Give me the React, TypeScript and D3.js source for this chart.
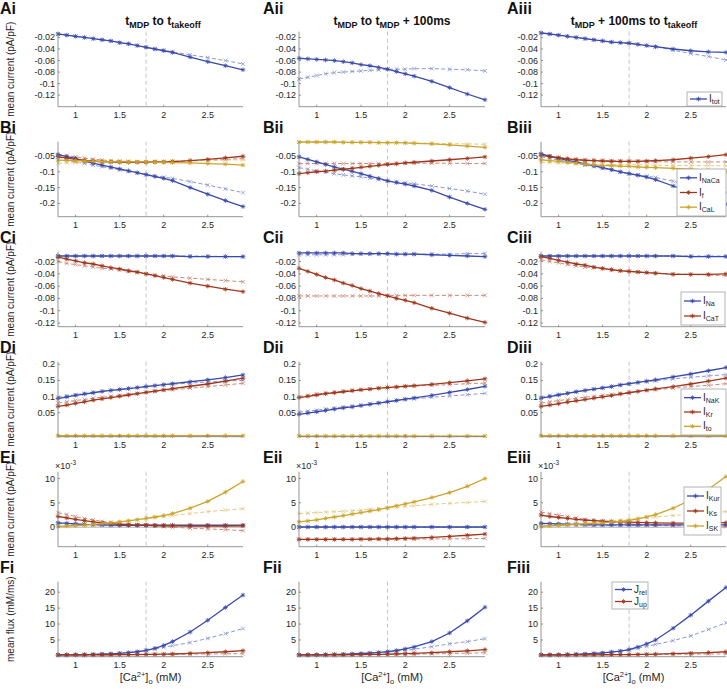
import React from 'react';
import * as d3 from 'd3';

// ---------- data ----------
const X = [0.8, 0.9, 1.0, 1.1, 1.2, 1.3, 1.4, 1.5, 1.6, 1.7, 1.8, 1.9, 2.0, 2.1, 2.3, 2.5, 2.7, 2.9];
const xTicks = [1, 1.5, 2, 2.5];
const colTitles = [
  [['t', ''], ['MDP', 'sub'], [' to t', ''], ['takeoff', 'sub']],
  [['t', ''], ['MDP', 'sub'], [' to t', ''], ['MDP', 'sub'], [' + 100ms', '']],
  [['t', ''], ['MDP', 'sub'], [' + 100ms to t', ''], ['takeoff', 'sub']],
];

// Row A: I_tot
const ai_tot = [-0.014,-0.016,-0.018,-0.020,-0.022,-0.024,-0.026,-0.029,-0.031,-0.034,-0.037,-0.040,-0.043,-0.046,-0.054,-0.062,-0.069,-0.076];
const ai_tot_d = [-0.014,-0.016,-0.018,-0.020,-0.022,-0.024,-0.026,-0.029,-0.031,-0.034,-0.037,-0.040,-0.042,-0.045,-0.050,-0.055,-0.060,-0.066];
const aii_tot = [-0.056,-0.057,-0.058,-0.059,-0.060,-0.062,-0.064,-0.067,-0.069,-0.072,-0.075,-0.079,-0.083,-0.087,-0.096,-0.107,-0.118,-0.128];
const aii_tot_d = [-0.092,-0.089,-0.086,-0.083,-0.081,-0.080,-0.079,-0.078,-0.077,-0.076,-0.075,-0.075,-0.075,-0.074,-0.074,-0.075,-0.076,-0.078];
const aiii_tot = [-0.012,-0.014,-0.016,-0.018,-0.020,-0.022,-0.024,-0.026,-0.028,-0.029,-0.030,-0.032,-0.034,-0.036,-0.040,-0.043,-0.045,-0.046];
const aiii_tot_d = [-0.012,-0.014,-0.016,-0.018,-0.020,-0.022,-0.024,-0.026,-0.028,-0.029,-0.030,-0.032,-0.034,-0.036,-0.042,-0.048,-0.053,-0.059];

// Row B: I_NaCa, I_f, I_CaL
const bi_naca = [-0.046,-0.052,-0.058,-0.066,-0.073,-0.079,-0.085,-0.091,-0.097,-0.103,-0.109,-0.115,-0.121,-0.128,-0.150,-0.171,-0.191,-0.210];
const bi_naca_d = [-0.053,-0.062,-0.069,-0.074,-0.079,-0.084,-0.089,-0.094,-0.099,-0.104,-0.109,-0.113,-0.117,-0.121,-0.131,-0.142,-0.154,-0.166];
const bi_f = [-0.052,-0.057,-0.061,-0.064,-0.066,-0.068,-0.069,-0.070,-0.070,-0.070,-0.070,-0.069,-0.069,-0.068,-0.065,-0.061,-0.056,-0.051];
const bi_f_d = [-0.045,-0.049,-0.053,-0.057,-0.060,-0.063,-0.065,-0.066,-0.068,-0.069,-0.069,-0.069,-0.069,-0.068,-0.066,-0.064,-0.061,-0.058];
const bi_cal = [-0.063,-0.064,-0.065,-0.066,-0.067,-0.068,-0.068,-0.069,-0.069,-0.069,-0.069,-0.070,-0.070,-0.071,-0.072,-0.074,-0.076,-0.079];
const bi_cal_d = [-0.073,-0.072,-0.071,-0.070,-0.070,-0.069,-0.069,-0.069,-0.068,-0.068,-0.068,-0.067,-0.067,-0.066,-0.065,-0.064,-0.063,-0.062];
const bii_naca = [-0.053,-0.061,-0.069,-0.077,-0.085,-0.092,-0.099,-0.106,-0.114,-0.121,-0.129,-0.134,-0.139,-0.145,-0.159,-0.180,-0.200,-0.219];
const bii_naca_d = [-0.087,-0.092,-0.097,-0.101,-0.106,-0.110,-0.113,-0.116,-0.120,-0.125,-0.129,-0.132,-0.135,-0.138,-0.145,-0.153,-0.161,-0.171];
const bii_f = [-0.106,-0.103,-0.100,-0.098,-0.095,-0.092,-0.089,-0.086,-0.083,-0.080,-0.077,-0.075,-0.072,-0.070,-0.066,-0.062,-0.058,-0.053];
const bii_f_d = [-0.074,-0.074,-0.074,-0.074,-0.074,-0.074,-0.074,-0.074,-0.074,-0.074,-0.074,-0.073,-0.073,-0.073,-0.073,-0.073,-0.074,-0.074];
const bii_cal = [-0.006,-0.006,-0.006,-0.006,-0.006,-0.007,-0.007,-0.007,-0.007,-0.008,-0.008,-0.008,-0.009,-0.010,-0.012,-0.015,-0.019,-0.023];
const bii_cal_d = [-0.006,-0.006,-0.006,-0.006,-0.006,-0.007,-0.007,-0.007,-0.007,-0.008,-0.008,-0.008,-0.008,-0.009,-0.010,-0.011,-0.012,-0.013];
const biii_naca = [-0.043,-0.051,-0.058,-0.064,-0.069,-0.075,-0.081,-0.087,-0.093,-0.100,-0.106,-0.111,-0.117,-0.125,-0.145,-0.164,-0.184,-0.203];
const biii_naca_d = [-0.053,-0.058,-0.063,-0.068,-0.073,-0.079,-0.084,-0.090,-0.095,-0.101,-0.106,-0.110,-0.114,-0.118,-0.130,-0.142,-0.154,-0.166];
const biii_f = [-0.048,-0.052,-0.056,-0.059,-0.062,-0.064,-0.065,-0.066,-0.067,-0.067,-0.067,-0.067,-0.066,-0.065,-0.062,-0.057,-0.052,-0.046];
const biii_f_d = [-0.045,-0.050,-0.054,-0.058,-0.060,-0.062,-0.063,-0.064,-0.065,-0.066,-0.067,-0.067,-0.068,-0.068,-0.069,-0.069,-0.069,-0.069];
const biii_cal = [-0.062,-0.065,-0.067,-0.070,-0.073,-0.076,-0.078,-0.080,-0.081,-0.082,-0.083,-0.085,-0.086,-0.087,-0.089,-0.092,-0.095,-0.098];
const biii_cal_d = [-0.070,-0.071,-0.072,-0.073,-0.074,-0.075,-0.076,-0.077,-0.077,-0.078,-0.078,-0.078,-0.079,-0.079,-0.080,-0.080,-0.081,-0.081];

// Row C: I_Na, I_CaT
const ci_na = [-0.011,-0.011,-0.011,-0.011,-0.011,-0.011,-0.011,-0.011,-0.011,-0.011,-0.011,-0.011,-0.011,-0.011,-0.012,-0.012,-0.012,-0.012];
const ci_na_d = [-0.011,-0.011,-0.011,-0.011,-0.011,-0.011,-0.011,-0.011,-0.011,-0.011,-0.011,-0.011,-0.011,-0.011,-0.011,-0.011,-0.012,-0.012];
const ci_cat = [-0.013,-0.016,-0.019,-0.022,-0.024,-0.027,-0.030,-0.032,-0.035,-0.037,-0.040,-0.043,-0.046,-0.049,-0.055,-0.060,-0.065,-0.069];
const ci_cat_d = [-0.020,-0.023,-0.025,-0.027,-0.029,-0.031,-0.032,-0.034,-0.036,-0.038,-0.040,-0.042,-0.043,-0.045,-0.047,-0.049,-0.051,-0.053];
const cii_na = [-0.006,-0.006,-0.006,-0.006,-0.006,-0.006,-0.007,-0.007,-0.007,-0.007,-0.007,-0.008,-0.008,-0.008,-0.009,-0.010,-0.011,-0.012];
const cii_na_d = [-0.009,-0.009,-0.009,-0.009,-0.009,-0.009,-0.008,-0.008,-0.008,-0.008,-0.008,-0.008,-0.008,-0.008,-0.008,-0.008,-0.007,-0.007];
const cii_cat = [-0.031,-0.036,-0.041,-0.046,-0.050,-0.055,-0.059,-0.064,-0.068,-0.072,-0.076,-0.080,-0.083,-0.087,-0.096,-0.104,-0.112,-0.119];
const cii_cat_d = [-0.076,-0.076,-0.076,-0.076,-0.076,-0.076,-0.076,-0.076,-0.076,-0.076,-0.075,-0.075,-0.075,-0.075,-0.075,-0.075,-0.075,-0.075];
const ciii_na = [-0.011,-0.011,-0.011,-0.011,-0.011,-0.011,-0.011,-0.011,-0.011,-0.011,-0.011,-0.011,-0.011,-0.011,-0.011,-0.012,-0.012,-0.012];
const ciii_na_d = [-0.011,-0.011,-0.011,-0.011,-0.011,-0.011,-0.011,-0.011,-0.011,-0.011,-0.011,-0.011,-0.011,-0.011,-0.011,-0.011,-0.011,-0.011];
const ciii_cat = [-0.012,-0.015,-0.018,-0.021,-0.024,-0.026,-0.029,-0.031,-0.033,-0.035,-0.036,-0.037,-0.038,-0.039,-0.041,-0.041,-0.041,-0.040];
const ciii_cat_d = [-0.017,-0.020,-0.022,-0.025,-0.027,-0.029,-0.030,-0.032,-0.034,-0.035,-0.036,-0.037,-0.038,-0.039,-0.040,-0.041,-0.042,-0.043];

// Row D: I_NaK, I_Kr, I_to
const di_nak = [0.094,0.099,0.104,0.108,0.112,0.116,0.119,0.122,0.125,0.128,0.131,0.134,0.137,0.140,0.146,0.152,0.159,0.167];
const di_nak_d = [0.098,0.102,0.106,0.110,0.113,0.116,0.119,0.122,0.125,0.128,0.131,0.134,0.136,0.138,0.142,0.145,0.148,0.150];
const di_kr = [0.070,0.074,0.079,0.084,0.089,0.093,0.097,0.101,0.105,0.109,0.113,0.117,0.121,0.125,0.132,0.139,0.148,0.157];
const di_kr_d = [0.080,0.084,0.088,0.091,0.095,0.098,0.101,0.104,0.107,0.110,0.113,0.116,0.119,0.121,0.126,0.131,0.136,0.141];
const di_to = [-0.021,-0.021,-0.021,-0.021,-0.021,-0.021,-0.021,-0.021,-0.021,-0.021,-0.021,-0.021,-0.021,-0.021,-0.021,-0.021,-0.021,-0.021];
const di_to_d = [-0.021,-0.021,-0.021,-0.021,-0.021,-0.021,-0.021,-0.021,-0.021,-0.021,-0.021,-0.021,-0.021,-0.021,-0.021,-0.021,-0.021,-0.021];
const dii_nak = [0.045,0.049,0.053,0.057,0.061,0.065,0.068,0.072,0.076,0.080,0.084,0.088,0.092,0.096,0.104,0.113,0.122,0.132];
const dii_nak_d = [0.052,0.055,0.058,0.062,0.065,0.068,0.071,0.074,0.078,0.081,0.085,0.088,0.091,0.093,0.098,0.102,0.106,0.110];
const dii_kr = [0.097,0.101,0.105,0.109,0.112,0.115,0.118,0.121,0.123,0.126,0.128,0.130,0.132,0.134,0.138,0.143,0.149,0.155];
const dii_kr_d = [0.100,0.104,0.108,0.111,0.114,0.117,0.120,0.122,0.124,0.126,0.128,0.129,0.131,0.132,0.135,0.137,0.140,0.142];
const dii_to = [-0.022,-0.022,-0.022,-0.022,-0.022,-0.022,-0.022,-0.022,-0.022,-0.022,-0.022,-0.022,-0.022,-0.022,-0.022,-0.022,-0.022,-0.022];
const dii_to_d = [-0.022,-0.022,-0.022,-0.022,-0.022,-0.022,-0.022,-0.022,-0.022,-0.022,-0.022,-0.022,-0.022,-0.022,-0.022,-0.022,-0.022,-0.022];
const diii_nak = [0.095,0.100,0.105,0.110,0.115,0.119,0.123,0.127,0.131,0.136,0.140,0.144,0.148,0.152,0.161,0.170,0.180,0.190];
const diii_nak_d = [0.098,0.103,0.107,0.111,0.115,0.119,0.123,0.127,0.131,0.135,0.139,0.143,0.146,0.149,0.155,0.160,0.164,0.168];
const diii_kr = [0.070,0.074,0.078,0.083,0.087,0.091,0.095,0.099,0.103,0.108,0.112,0.116,0.120,0.124,0.131,0.139,0.148,0.157];
const diii_kr_d = [0.080,0.084,0.088,0.091,0.095,0.098,0.101,0.104,0.107,0.110,0.113,0.116,0.119,0.121,0.126,0.131,0.135,0.140];
const diii_to = [-0.021,-0.021,-0.021,-0.021,-0.021,-0.021,-0.021,-0.021,-0.021,-0.021,-0.021,-0.021,-0.021,-0.021,-0.021,-0.021,-0.021,-0.021];
const diii_to_d = [-0.021,-0.021,-0.021,-0.021,-0.021,-0.021,-0.021,-0.021,-0.021,-0.021,-0.021,-0.021,-0.021,-0.021,-0.021,-0.021,-0.021,-0.021];

// Row E (x10^-3): I_Kur, I_Ks, I_SK
const ei_kur = [0.9,0.8,0.7,0.6,0.55,0.5,0.45,0.4,0.4,0.4,0.4,0.4,0.4,0.4,0.4,0.4,0.4,0.4];
const ei_kur_d = [0.8,0.7,0.6,0.55,0.5,0.45,0.4,0.4,0.35,0.35,0.35,0.35,0.35,0.35,0.35,0.35,0.35,0.35];
const ei_ks = [2.2,1.9,1.6,1.35,1.1,0.9,0.75,0.6,0.5,0.45,0.4,0.35,0.3,0.3,0.25,0.25,0.25,0.3];
const ei_ks_d = [3.0,2.6,2.2,1.8,1.5,1.2,1.0,0.8,0.6,0.45,0.4,0.25,0.1,0.0,-0.2,-0.35,-0.5,-0.7];
const ei_sk = [0.2,0.25,0.35,0.45,0.6,0.75,0.9,1.1,1.3,1.55,1.8,2.1,2.4,2.8,3.9,5.3,7.2,9.4];
const ei_sk_d = [0.1,0.2,0.3,0.45,0.6,0.75,0.9,1.1,1.3,1.55,1.8,2.0,2.2,2.4,2.8,3.2,3.5,3.8];
const eii_kur = [0.05,0.05,0.05,0.05,0.05,0.05,0.05,0.05,0.05,0.05,0.05,0.05,0.05,0.05,0.05,0.05,0.05,0.05];
const eii_kur_d = [0.0,0.0,0.0,0.0,0.0,0.0,0.0,0.0,0.0,0.0,0.0,0.0,0.0,0.0,0.0,0.0,0.0,0.0];
const eii_ks = [-2.5,-2.5,-2.5,-2.5,-2.5,-2.5,-2.5,-2.45,-2.45,-2.4,-2.4,-2.35,-2.3,-2.25,-2.1,-1.9,-1.65,-1.4];
const eii_ks_d = [-2.5,-2.5,-2.5,-2.5,-2.5,-2.5,-2.5,-2.5,-2.5,-2.5,-2.5,-2.45,-2.45,-2.45,-2.4,-2.4,-2.35,-2.3];
const eii_sk = [1.1,1.3,1.5,1.8,2.1,2.4,2.7,3.0,3.3,3.6,4.0,4.4,4.8,5.2,6.1,7.1,8.4,10.0];
const eii_sk_d = [2.8,2.9,3.0,3.1,3.2,3.3,3.4,3.5,3.7,3.8,3.9,4.1,4.3,4.4,4.7,4.9,5.1,5.3];
const eiii_kur = [0.8,0.75,0.7,0.65,0.6,0.55,0.5,0.5,0.5,0.5,0.5,0.5,0.5,0.5,0.5,0.5,0.5,0.5];
const eiii_kur_d = [0.7,0.6,0.55,0.5,0.45,0.45,0.4,0.4,0.4,0.4,0.4,0.4,0.4,0.4,0.4,0.4,0.4,0.4];
const eiii_ks = [2.5,2.2,2.0,1.8,1.6,1.45,1.35,1.25,1.15,1.1,1.05,1.0,0.95,0.9,0.85,0.85,0.9,0.95];
const eiii_ks_d = [3.1,2.8,2.5,2.2,1.9,1.6,1.4,1.2,1.0,0.85,0.7,0.6,0.5,0.4,0.3,0.2,0.15,0.1];
const eiii_sk = [0.2,0.3,0.4,0.5,0.6,0.7,0.8,0.9,1.1,1.2,1.4,1.7,2.1,2.6,3.9,5.6,7.8,10.4];
const eiii_sk_d = [0.1,0.2,0.35,0.5,0.65,0.8,0.95,1.1,1.3,1.45,1.6,1.8,2.0,2.1,2.4,2.7,3.0,3.2];

// Row F: J_rel, J_up
const fi_rel = [0.3,0.3,0.35,0.4,0.45,0.55,0.65,0.8,1.0,1.3,1.75,2.4,3.3,4.5,7.5,11.2,15.2,19.1];
const fi_rel_d = [0.3,0.35,0.4,0.45,0.5,0.6,0.7,0.85,1.05,1.35,1.75,2.2,2.7,3.2,4.2,5.5,7.0,8.6];
const fi_up = [0.3,0.3,0.3,0.3,0.32,0.34,0.36,0.38,0.4,0.43,0.47,0.5,0.55,0.6,0.8,1.0,1.3,1.65];
const fi_up_d = [0.3,0.3,0.3,0.3,0.32,0.34,0.36,0.38,0.4,0.42,0.44,0.46,0.48,0.5,0.55,0.6,0.65,0.7];
const fii_rel = [0.3,0.3,0.35,0.4,0.45,0.5,0.6,0.75,0.9,1.1,1.35,1.7,2.2,2.8,4.5,7.2,11.0,15.3];
const fii_rel_d = [0.3,0.3,0.35,0.4,0.45,0.5,0.6,0.7,0.85,1.0,1.2,1.45,1.75,2.1,2.9,3.8,4.5,5.4];
const fii_up = [0.3,0.3,0.3,0.3,0.32,0.35,0.38,0.42,0.46,0.5,0.55,0.62,0.7,0.8,1.0,1.3,1.6,2.0];
const fii_up_d = [0.3,0.3,0.3,0.3,0.31,0.33,0.35,0.37,0.4,0.42,0.45,0.48,0.5,0.55,0.65,0.75,0.85,1.0];
const fiii_rel = [0.3,0.3,0.35,0.4,0.5,0.6,0.75,0.95,1.2,1.5,2.0,2.8,3.8,5.0,8.7,12.8,17.2,21.5];
const fiii_rel_d = [0.3,0.35,0.4,0.5,0.55,0.65,0.8,1.0,1.2,1.5,1.9,2.4,3.0,3.6,4.8,6.3,8.3,10.4];
const fiii_up = [0.3,0.3,0.3,0.3,0.3,0.32,0.34,0.36,0.38,0.4,0.42,0.45,0.5,0.55,0.7,0.85,1.05,1.3];
const fiii_up_d = [0.3,0.3,0.3,0.3,0.3,0.3,0.32,0.33,0.35,0.36,0.38,0.4,0.42,0.44,0.5,0.55,0.6,0.65];

const ticksA = [-0.12, -0.1, -0.08, -0.06, -0.04, -0.02];
const ticksB = [-0.2, -0.15, -0.1, -0.05];
const ticksD = [0.05, 0.1, 0.15, 0.2];
const ticksE = [0, 5, 10];
const ticksF = [5, 10, 15, 20];

// ---------- styles / layout ----------
const BLUE = '#3a4aab';
const RED = '#a0361c';
const GOLD = '#cca42b';
const FONT = 'Liberation Sans, Arial, Helvetica, sans-serif';
const COLS = [{ l: 58, r: 243 }, { l: 299, r: 485 }, { l: 541, r: 726 }];
const ROW_TOP = [31.7, 141.7, 251.7, 361.7, 471.7, 581.7];
const PH = 75;
const LABEL_X = [0, 263, 507];
const TITLE_CX = [163, 392, 634];
const ROMAN = ['i', 'ii', 'iii'];

type Series = { color: string; solid: number[]; dashed: number[] };
type Row = {
  key: string; domain: [number, number]; ticks: number[]; ylabel: string;
  zero?: boolean; mult?: boolean; panels: Series[][];
};

const ROWS: Row[] = [
  {
    key: 'A', domain: [-0.14, -0.01], ticks: ticksA, ylabel: 'mean current (pA/pF)',
    panels: [
      [{ color: BLUE, solid: ai_tot, dashed: ai_tot_d }],
      [{ color: BLUE, solid: aii_tot, dashed: aii_tot_d }],
      [{ color: BLUE, solid: aiii_tot, dashed: aiii_tot_d }],
    ],
  },
  {
    key: 'B', domain: [-0.242, -0.005], ticks: ticksB, ylabel: 'mean current (pA/pF)',
    panels: [
      [{ color: BLUE, solid: bi_naca, dashed: bi_naca_d }, { color: RED, solid: bi_f, dashed: bi_f_d }, { color: GOLD, solid: bi_cal, dashed: bi_cal_d }],
      [{ color: BLUE, solid: bii_naca, dashed: bii_naca_d }, { color: RED, solid: bii_f, dashed: bii_f_d }, { color: GOLD, solid: bii_cal, dashed: bii_cal_d }],
      [{ color: BLUE, solid: biii_naca, dashed: biii_naca_d }, { color: RED, solid: biii_f, dashed: biii_f_d }, { color: GOLD, solid: biii_cal, dashed: biii_cal_d }],
    ],
  },
  {
    key: 'C', domain: [-0.126, -0.004], ticks: ticksA, ylabel: 'mean current (pA/pF)',
    panels: [
      [{ color: BLUE, solid: ci_na, dashed: ci_na_d }, { color: RED, solid: ci_cat, dashed: ci_cat_d }],
      [{ color: BLUE, solid: cii_na, dashed: cii_na_d }, { color: RED, solid: cii_cat, dashed: cii_cat_d }],
      [{ color: BLUE, solid: ciii_na, dashed: ciii_na_d }, { color: RED, solid: ciii_cat, dashed: ciii_cat_d }],
    ],
  },
  {
    key: 'D', domain: [-0.024, 0.208], ticks: ticksD, ylabel: 'mean current (pA/pF)',
    panels: [
      [{ color: BLUE, solid: di_nak, dashed: di_nak_d }, { color: RED, solid: di_kr, dashed: di_kr_d }, { color: GOLD, solid: di_to, dashed: di_to_d }],
      [{ color: BLUE, solid: dii_nak, dashed: dii_nak_d }, { color: RED, solid: dii_kr, dashed: dii_kr_d }, { color: GOLD, solid: dii_to, dashed: dii_to_d }],
      [{ color: BLUE, solid: diii_nak, dashed: diii_nak_d }, { color: RED, solid: diii_kr, dashed: diii_kr_d }, { color: GOLD, solid: diii_to, dashed: diii_to_d }],
    ],
  },
  {
    key: 'E', domain: [-4, 11.4], ticks: ticksE, ylabel: 'mean current (pA/pF)', zero: true, mult: true,
    panels: [
      [{ color: BLUE, solid: ei_kur, dashed: ei_kur_d }, { color: RED, solid: ei_ks, dashed: ei_ks_d }, { color: GOLD, solid: ei_sk, dashed: ei_sk_d }],
      [{ color: BLUE, solid: eii_kur, dashed: eii_kur_d }, { color: RED, solid: eii_ks, dashed: eii_ks_d }, { color: GOLD, solid: eii_sk, dashed: eii_sk_d }],
      [{ color: BLUE, solid: eiii_kur, dashed: eiii_kur_d }, { color: RED, solid: eiii_ks, dashed: eiii_ks_d }, { color: GOLD, solid: eiii_sk, dashed: eiii_sk_d }],
    ],
  },
  {
    key: 'F', domain: [-0.25, 23.3], ticks: ticksF, ylabel: 'mean flux (mM/ms)',
    panels: [
      [{ color: BLUE, solid: fi_rel, dashed: fi_rel_d }, { color: RED, solid: fi_up, dashed: fi_up_d }],
      [{ color: BLUE, solid: fii_rel, dashed: fii_rel_d }, { color: RED, solid: fii_up, dashed: fii_up_d }],
      [{ color: BLUE, solid: fiii_rel, dashed: fiii_rel_d }, { color: RED, solid: fiii_up, dashed: fiii_up_d }],
    ],
  },
];

type LegendEntry = { color: string; main: string; sub: string };
const LEGENDS: { row: number; col: number; x: number; y: number; w: number; h: number; entries: LegendEntry[] }[] = [
  { row: 0, col: 2, x: 687, y: 92, w: 35, h: 14, entries: [{ color: BLUE, main: 'I', sub: 'tot' }] },
  { row: 1, col: 2, x: 677, y: 169, w: 49, h: 47, entries: [
    { color: BLUE, main: 'I', sub: 'NaCa' }, { color: RED, main: 'I', sub: 'f' }, { color: GOLD, main: 'I', sub: 'CaL' }] },
  { row: 2, col: 2, x: 681, y: 292, w: 44, h: 33, entries: [
    { color: BLUE, main: 'I', sub: 'Na' }, { color: RED, main: 'I', sub: 'CaT' }] },
  { row: 3, col: 2, x: 681, y: 389, w: 45, h: 46, entries: [
    { color: BLUE, main: 'I', sub: 'NaK' }, { color: RED, main: 'I', sub: 'Kr' }, { color: GOLD, main: 'I', sub: 'to' }] },
  { row: 4, col: 2, x: 684, y: 487, w: 37, h: 48, entries: [
    { color: BLUE, main: 'I', sub: 'Kur' }, { color: RED, main: 'I', sub: 'Ks' }, { color: GOLD, main: 'I', sub: 'SK' }] },
  { row: 5, col: 2, x: 612, y: 582, w: 36, h: 27, entries: [
    { color: BLUE, main: 'J', sub: 'rel' }, { color: RED, main: 'J', sub: 'up' }] },
];

function lighten(c: string, t = 0.42) {
  return d3.interpolateRgb(c, '#ffffff')(t);
}

function starPath(pts: [number, number][], s = 2.3) {
  const k = s * 0.72;
  return pts.map(([x, y]) =>
    `M${x - s},${y}H${x + s}M${x},${y - s}V${y + s}M${x - k},${y - k}L${x + k},${y + k}M${x - k},${y + k}L${x + k},${y - k}`
  ).join('');
}
function xPath(pts: [number, number][], s = 1.9) {
  return pts.map(([x, y]) => `M${x - s},${y - s}L${x + s},${y + s}M${x - s},${y + s}L${x + s},${y - s}`).join('');
}

function Panel({ row, ri, ci }: { row: Row; ri: number; ci: number }) {
  const col = COLS[ci];
  const top = ROW_TOP[ri];
  const bottom = top + PH;
  const xs = d3.scaleLinear().domain([0.8, 2.9]).range([col.l, col.r]);
  const ys = d3.scaleLinear().domain(row.domain).range([bottom, top]);
  const line = d3.line<number>().x((_, i) => xs(X[i])).y((d) => ys(d));
  const series = row.panels[ci];
  const clipId = `clip-${ri}-${ci}`;
  const axisColor = '#7a7a7a';
  return (
    <g>
      <defs>
        <clipPath id={clipId}>
          <rect x={col.l - 3} y={top - 3} width={col.r - col.l + 6} height={PH + 6} />
        </clipPath>
      </defs>
      <line x1={xs(1.8)} x2={xs(1.8)} y1={top} y2={bottom} stroke="#b4b4b4" strokeWidth={0.8} strokeDasharray="4,3" />
      {row.zero && (
        <line x1={col.l} x2={col.r} y1={ys(0)} y2={ys(0)} stroke="#c9c9c9" strokeWidth={1.4} />
      )}
      <g clipPath={`url(#${clipId})`}>
        {series.map((s, si) => {
          const lc = lighten(s.color);
          const pts = s.dashed.map((d, i) => [xs(X[i]), ys(d)] as [number, number]);
          return (
            <g key={'d' + si}>
              <path d={line(s.dashed) || ''} fill="none" stroke={lc} strokeWidth={1} strokeDasharray="4,2.5" />
              <path d={xPath(pts)} fill="none" stroke={lc} strokeWidth={0.8} />
            </g>
          );
        })}
        {series.map((s, si) => {
          const pts = s.solid.map((d, i) => [xs(X[i]), ys(d)] as [number, number]);
          return (
            <g key={'s' + si}>
              <path d={line(s.solid) || ''} fill="none" stroke={s.color} strokeWidth={1.3} />
              <path d={starPath(pts)} fill="none" stroke={s.color} strokeWidth={0.8} />
            </g>
          );
        })}
      </g>
      <line x1={col.l} x2={col.l} y1={top} y2={bottom} stroke={axisColor} strokeWidth={0.8} />
      <line x1={col.l} x2={col.r} y1={bottom} y2={bottom} stroke={axisColor} strokeWidth={0.8} />
      {row.ticks.map((t) => (
        <g key={'yt' + t}>
          <line x1={col.l} x2={col.l + 2} y1={ys(t)} y2={ys(t)} stroke={axisColor} strokeWidth={0.8} />
          <text x={col.l - 3} y={ys(t) + 3} textAnchor="end" fontSize={9} fill="#262626" fontFamily={FONT}>{String(t)}</text>
        </g>
      ))}
      {xTicks.map((t) => (
        <g key={'xt' + t}>
          <line x1={xs(t)} x2={xs(t)} y1={bottom} y2={bottom - 2} stroke={axisColor} strokeWidth={0.8} />
          <text x={xs(t)} y={bottom + 11.5} textAnchor="middle" fontSize={9} fill="#262626" fontFamily={FONT}>{String(t)}</text>
        </g>
      ))}
      {row.mult && (
        <text x={col.l - 3} y={top - 3} fontSize={9} fill="#262626" fontFamily={FONT}>
          ×10<tspan fontSize={6.5} dy={-3.5}>-3</tspan>
        </text>
      )}
      <text x={LABEL_X[ci]} y={ri === 0 ? 14 : top - 9} fontSize={16} fontWeight="bold" fill="#111" fontFamily={FONT}>
        {row.key + ROMAN[ci]}
      </text>
      {ci === 0 && (
        <text
          transform={`translate(14,${(top + bottom) / 2}) rotate(-90)`}
          textAnchor="middle" fontSize={10} fill="#262626" fontFamily={FONT}
        >
          {row.ylabel}
        </text>
      )}
      {ri === 5 && (
        <text x={(col.l + col.r) / 2} y={bottom + 24} textAnchor="middle" fontSize={11} fill="#262626" fontFamily={FONT}>
          [Ca<tspan fontSize={7.5} dy={-4}>2+</tspan><tspan dy={4}>]</tspan>
          <tspan fontSize={7.5} dy={3}>o</tspan><tspan dy={-3}> (mM)</tspan>
        </text>
      )}
    </g>
  );
}

function Legend({ x, y, w, h, entries }: { x: number; y: number; w: number; h: number; entries: LegendEntry[] }) {
  const n = entries.length;
  const pitch = (h - 3) / n;
  return (
    <g>
      <rect x={x} y={y} width={w} height={h} fill="#ffffff" stroke="#a0a0a0" strokeWidth={0.8} />
      {entries.map((e, i) => {
        const cy = y + 1.5 + pitch * (i + 0.5);
        const cx = x + 11.5;
        return (
          <g key={i}>
            <line x1={x + 3} x2={x + 20} y1={cy} y2={cy} stroke={e.color} strokeWidth={1.3} />
            <path d={starPath([[cx, cy]])} stroke={e.color} strokeWidth={0.8} fill="none" />
            <text x={x + 22} y={cy + 3} fontSize={10} fill="#262626" fontFamily={FONT}>
              {e.main}<tspan fontSize={7} dy={2}>{e.sub}</tspan>
            </text>
          </g>
        );
      })}
    </g>
  );
}

export default function App() {
  return (
    <svg width={727} height={689} viewBox="0 0 727 689"
      style={{ position: 'absolute', left: 0, top: 0, background: '#fff' }}>
      <rect x={0} y={0} width={727} height={689} fill="#fff" />
      {colTitles.map((parts, ci) => (
        <text key={ci} x={TITLE_CX[ci]} y={25} textAnchor="middle" fontSize={12} fontWeight="bold" fill="#111" fontFamily={FONT}>
          {parts.map(([txt, kind], i) => {
            const prevSub = i > 0 && parts[i - 1][1] === 'sub';
            if (kind === 'sub') return <tspan key={i} fontSize={9} dy={3}>{txt}</tspan>;
            return <tspan key={i} dy={prevSub ? -3 : 0} style={{ whiteSpace: 'pre' }}>{txt}</tspan>;
          })}
        </text>
      ))}
      {ROWS.map((row, ri) => row.panels.map((_, ci) => (
        <Panel key={ri + '-' + ci} row={row} ri={ri} ci={ci} />
      )))}
      {LEGENDS.map((lg, i) => <Legend key={i} {...lg} />)}
    </svg>
  );
}
